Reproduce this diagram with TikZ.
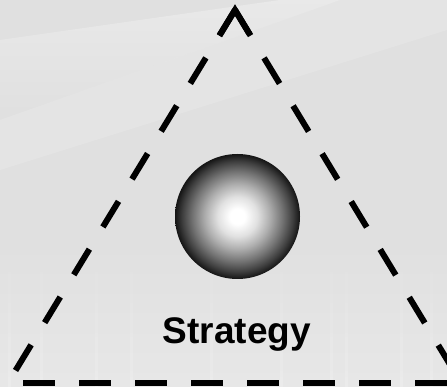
\documentclass[tikz,border=0pt]{standalone}
\usepackage{fontspec}
\setmainfont{Liberation Sans}
\usetikzlibrary{calc,fadings}
\pgfdeclareradialshading{ballshade}{\pgfpoint{0bp}{0bp}}{%
  color(0bp)=(white); color(3bp)=(white); color(8bp)=(black!12);
  color(13bp)=(black!32); color(18bp)=(black!55); color(22bp)=(black!75);
  color(25bp)=(black!92); color(50bp)=(black)}
\begin{document}
\begin{tikzpicture}[x=1pt,y=-1pt,
  leg/.style={line width=6pt,line cap=butt,dash pattern=on 30pt off 26pt},
  baseln/.style={line width=6pt,line cap=butt,dash pattern=on 32pt off 24pt},
  apexln/.style={line width=6pt,line cap=butt,line join=miter},
  label/.style={font=\bfseries\fontsize{37}{40}\selectfont,anchor=base,inner sep=0pt}]
\useasboundingbox (0,0) rectangle (447,387);
% background
\fill[black!12] (0,0) rectangle (447,387);
\fill[white,opacity=0.3,path fading=south] (0,40) -- (280,0) -- (340,0) -- (0,120) -- cycle;
\fill[white,opacity=0.15] (0,120) -- (340,0) -- (447,0) -- (447,30) -- (0,170) -- cycle;
\fill[white,opacity=0.25,path fading=north] (0,235) rectangle (447,387);
\foreach \xx in {8,40,95,130,210,280,330,345,400,430}
  \fill[white,opacity=0.18,path fading=north] (\xx,245) rectangle ++(3,142);
% triangle
\coordinate (A) at (235,10);
\coordinate (L) at (14,373);
\coordinate (R) at (460,381);
\coordinate (Lt) at ($(A)!30pt!(L)$);
\coordinate (Rt) at ($(A)!28pt!(R)$);
\coordinate (B1) at (23,383);
\coordinate (B2) at (447,383);
\draw[leg] (A) -- (L);
\draw[leg] (A) -- (R);
\draw[apexln] (Lt) -- (A) -- (Rt);
\draw[baseln] (B1) -- (B2);
% sphere
\node (ball) [circle,minimum size=125pt,inner sep=0pt,shading=ballshade] at (237.5,216.5) {};
% label
\node (txt) [label] at (237,343) {Strategy};
\end{tikzpicture}
\end{document}
